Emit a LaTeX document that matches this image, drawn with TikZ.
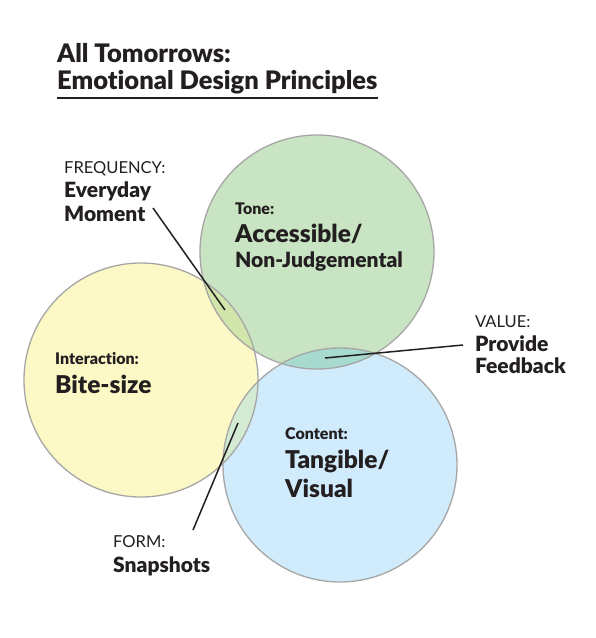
\documentclass[tikz,border=0pt]{standalone}
\usepackage{fontspec}
\setmainfont{Lato}[BoldFont={Lato Black}, Ligatures={NoCommon}]
\usetikzlibrary{positioning}

\definecolor{ink}{HTML}{231F20}
\definecolor{ringgray}{HTML}{A6A6A6}
\definecolor{tonefill}{HTML}{C8E4C2}
\definecolor{interfill}{HTML}{FDF9C6}
\definecolor{contentfill}{HTML}{D0EBFC}
\definecolor{freqfill}{HTML}{D2E5AA}
\definecolor{valuefill}{HTML}{A8DBCF}
\definecolor{formfill}{HTML}{D3EAD3}

\tikzset{
  ring/.style={draw=ringgray, line width=1.3pt},
  pointer/.style={draw=ink, line width=1.5pt},
  txt/.style={anchor=base west, inner sep=0pt, text=ink},
  titletext/.style={txt, font=\bfseries\fontsize{25.5}{30}\selectfont},
  cattext/.style={txt, font=\fontsize{16.5}{20}\selectfont},
  headtext/.style={txt, font=\bfseries\fontsize{16}{19}\selectfont},
  midtext/.style={txt, font=\bfseries\fontsize{21}{25}\selectfont},
  bigtext/.style={txt, font=\bfseries\fontsize{24.5}{29}\selectfont},
}

\begin{document}
\begin{tikzpicture}[x=1pt,y=-1pt]
  \useasboundingbox[fill=white] (0,0) rectangle (596,638);

  % circle centres
  \coordinate (tone) at (317,252);
  \coordinate (inter) at (141,380);
  \coordinate (content) at (340,465);
  \def\rad{117}

  % fills
  \fill[tonefill] (tone) circle (\rad);
  \fill[interfill] (inter) circle (\rad);
  \fill[contentfill] (content) circle (\rad);
  \begin{scope}
    \clip (tone) circle (\rad);
    \fill[freqfill] (inter) circle (\rad);
    \fill[valuefill] (content) circle (\rad);
  \end{scope}
  \begin{scope}
    \clip (inter) circle (\rad);
    \fill[formfill] (content) circle (\rad);
  \end{scope}

  % outlines
  \draw[ring] (tone) circle (\rad);
  \draw[ring] (inter) circle (\rad);
  \draw[ring] (content) circle (\rad);

  % title
  \node[titletext] (title1) at (57,62) {All Tomorrows:};
  \node[titletext] (title2) at (57,89) {Emotional Design Principles};
  \draw[ink, line width=1.8pt] ([yshift=-9pt]title2.base west) -- ([yshift=-9pt]title2.base east);

  % circle texts
  \node[headtext] (tonehead) at (235,214) {Tone:};
  \node[bigtext] (tone1) at (235,242) {Accessible/};
  \node[midtext] (tone2) at (235,267) {Non-Judgemental};

  \node[headtext] (interhead) at (55,364) {Interaction:};
  \node[bigtext] (inter1) at (55,393) {Bite-size};

  \node[headtext] (conthead) at (285,439) {Content:};
  \node[bigtext] (cont1) at (285,468) {Tangible/};
  \node[bigtext] (cont2) at (285,497) {Visual};

  % outside labels
  \node[cattext] (freqhead) at (64,173) {FREQUENCY:};
  \node[midtext] (freq1) at (64,197) {Everyday};
  \node[midtext] (freq2) at (64,221) {Moment};

  \node[cattext] (valuehead) at (475,327) {VALUE:};
  \node[midtext] (value1) at (475,351) {Provide};
  \node[midtext] (value2) at (475,373) {Feedback};

  \node[cattext] (formhead) at (113,547) {FORM:};
  \node[midtext] (form1) at (113,572) {Snapshots};

  % pointers
  \coordinate (freqstart) at (153,208);
  \coordinate (freqend) at (225,310);
  \coordinate (valuestart) at (463,345);
  \coordinate (valueend) at (325,358);
  \coordinate (formstart) at (193,530);
  \coordinate (formend) at (238,423);
  \draw[pointer] (freqstart) -- (freqend);
  \draw[pointer] (valuestart) -- (valueend);
  \draw[pointer] (formstart) -- (formend);
\end{tikzpicture}
\end{document}
